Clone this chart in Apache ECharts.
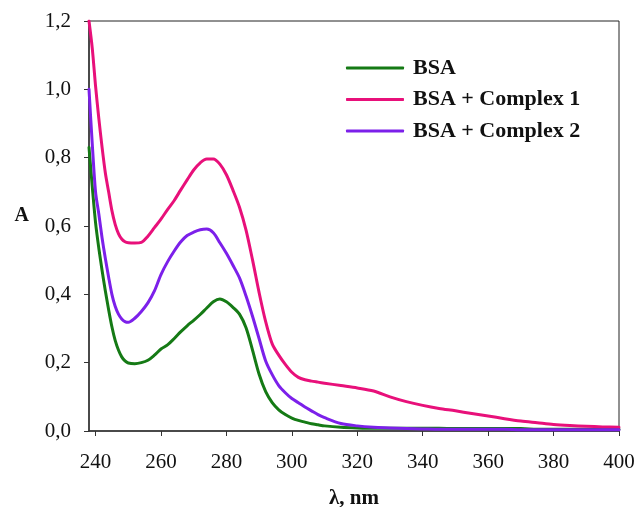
<!DOCTYPE html>
<html>
<head>
<meta charset="utf-8">
<script src="https://cdn.jsdelivr.net/npm/echarts@6/dist/echarts.min.js"></script>
<style>
  html, body { margin: 0; padding: 0; background: #fff; }
  #chart { width: 640px; height: 507px; }
</style>
</head>
<body>
<div id="chart"></div>
<script>
// Wavelength grid (nm) shared by all three absorption spectra
const wavelengths = [238, 239, 240, 241, 242, 243, 244, 245, 246, 247, 248, 249, 250,
  252, 254, 256, 258, 260, 262, 264, 266, 268, 270, 272, 274, 276, 278, 280, 282, 284,
  286, 288, 290, 292, 294, 296, 298, 300, 302, 304, 306, 308, 310, 315, 320, 325, 330,
  335, 340, 345, 350, 355, 360, 365, 370, 375, 380, 385, 390, 395, 400];

// Absorbance of BSA alone
const bsa = [0.83, 0.715, 0.61, 0.535, 0.47, 0.41, 0.355, 0.305, 0.265, 0.237, 0.217, 0.205, 0.199,
  0.197, 0.2, 0.207, 0.222, 0.24, 0.252, 0.27, 0.29, 0.308, 0.324, 0.341, 0.36, 0.378, 0.386, 0.378, 0.362, 0.342,
  0.302, 0.236, 0.166, 0.115, 0.083, 0.062, 0.048, 0.038, 0.031, 0.026, 0.021, 0.018, 0.015, 0.011, 0.009, 0.008, 0.008,
  0.008, 0.008, 0.008, 0.007, 0.007, 0.007, 0.007, 0.007, 0.005, 0.005, 0.005, 0.005, 0.005, 0.005];

// Absorbance of BSA + Complex 1
const bsaComplex1 = [1.2, 1.12, 1.01, 0.915, 0.83, 0.755, 0.70, 0.645, 0.605, 0.578, 0.562, 0.554, 0.551,
  0.55, 0.552, 0.57, 0.595, 0.62, 0.648, 0.674, 0.705, 0.735, 0.764, 0.785, 0.796, 0.796, 0.781, 0.75, 0.705, 0.655,
  0.588, 0.50, 0.405, 0.32, 0.255, 0.222, 0.195, 0.172, 0.157, 0.15, 0.146, 0.143, 0.14, 0.133, 0.126, 0.117, 0.10,
  0.086, 0.075, 0.066, 0.059, 0.051, 0.044, 0.036, 0.029, 0.024, 0.019, 0.016, 0.014, 0.012, 0.011];

// Absorbance of BSA + Complex 2
const bsaComplex2 = [1.0, 0.84, 0.70, 0.635, 0.565, 0.505, 0.45, 0.40, 0.365, 0.342, 0.328, 0.32, 0.318,
  0.33, 0.35, 0.375, 0.41, 0.458, 0.495, 0.526, 0.553, 0.572, 0.582, 0.589, 0.591, 0.58, 0.551, 0.52, 0.485, 0.448,
  0.395, 0.335, 0.27, 0.205, 0.165, 0.133, 0.112, 0.095, 0.083, 0.07, 0.059, 0.048, 0.039, 0.022, 0.015, 0.011, 0.009,
  0.007, 0.006, 0.005, 0.005, 0.005, 0.005, 0.005, 0.004, 0.004, 0.004, 0.004, 0.004, 0.004, 0.004];

const xTicks = [240, 260, 280, 300, 320, 340, 360, 380, 400];
const seriesNames = ['BSA', 'BSA + Complex 1', 'BSA + Complex 2'];
const seriesColors = ['#157a15', '#e8107a', '#7c20ea'];

const serif = '"Liberation Serif", "Times New Roman", serif';

function pairs(ys) {
  return wavelengths.map((x, i) => [x, ys[i]]);
}

const chart = echarts.init(document.getElementById('chart'), null, { renderer: 'canvas' });

chart.setOption({
  backgroundColor: '#ffffff',
  animation: false,
  grid: {
    left: 89, right: 21, top: 21, bottom: 76,
    containLabel: false,
    outerBoundsMode: 'none',
    show: true, borderColor: '#222', borderWidth: 1, backgroundColor: 'transparent'
  },
  legend: {
    orient: 'vertical',
    left: 341, top: 52,
    itemWidth: 58, itemHeight: 3, itemGap: 9.5,
    icon: 'roundRect',
    data: seriesNames,
    textStyle: {
      fontFamily: serif, fontWeight: 'bold', fontSize: 22, color: '#111',
      lineHeight: 21, padding: [0, 0, 0, 4]
    }
  },
  xAxis: {
    type: 'value',
    min: 238, max: 400,
    name: 'λ, nm',
    nameLocation: 'middle',
    nameGap: 57,
    nameTextStyle: { fontFamily: serif, fontWeight: 'bold', fontSize: 21, color: '#111' },
    axisLine: { lineStyle: { color: '#333', width: 1.5 } },
    axisTick: { show: true, length: 5, customValues: xTicks, lineStyle: { color: '#333' } },
    axisLabel: {
      customValues: xTicks, margin: 21,
      fontFamily: serif, fontSize: 21, color: '#111'
    },
    splitLine: { show: false }
  },
  yAxis: {
    type: 'value',
    min: 0, max: 1.2, interval: 0.2,
    name: 'A',
    nameLocation: 'middle',
    nameRotate: 0,
    nameGap: 60,
    nameTextStyle: {
      fontFamily: serif, fontWeight: 'bold', fontSize: 20, color: '#111',
      verticalAlign: 'bottom'
    },
    axisLine: { show: true, lineStyle: { color: '#333', width: 1.5 } },
    axisTick: { show: true, length: 5, lineStyle: { color: '#333' } },
    axisLabel: {
      margin: 18,
      fontFamily: serif, fontSize: 21, color: '#111',
      formatter: v => v.toFixed(1).replace('.', ',')
    },
    splitLine: { show: false }
  },
  series: [bsa, bsaComplex1, bsaComplex2].map((ys, i) => ({
    name: seriesNames[i],
    type: 'line',
    data: pairs(ys),
    showSymbol: false,
    symbol: 'none',
    smooth: 0.3,
    clip: true,
    lineStyle: { color: seriesColors[i], width: 3, cap: 'round', join: 'round' },
    itemStyle: { color: seriesColors[i] }
  }))
});
</script>
</body>
</html>
